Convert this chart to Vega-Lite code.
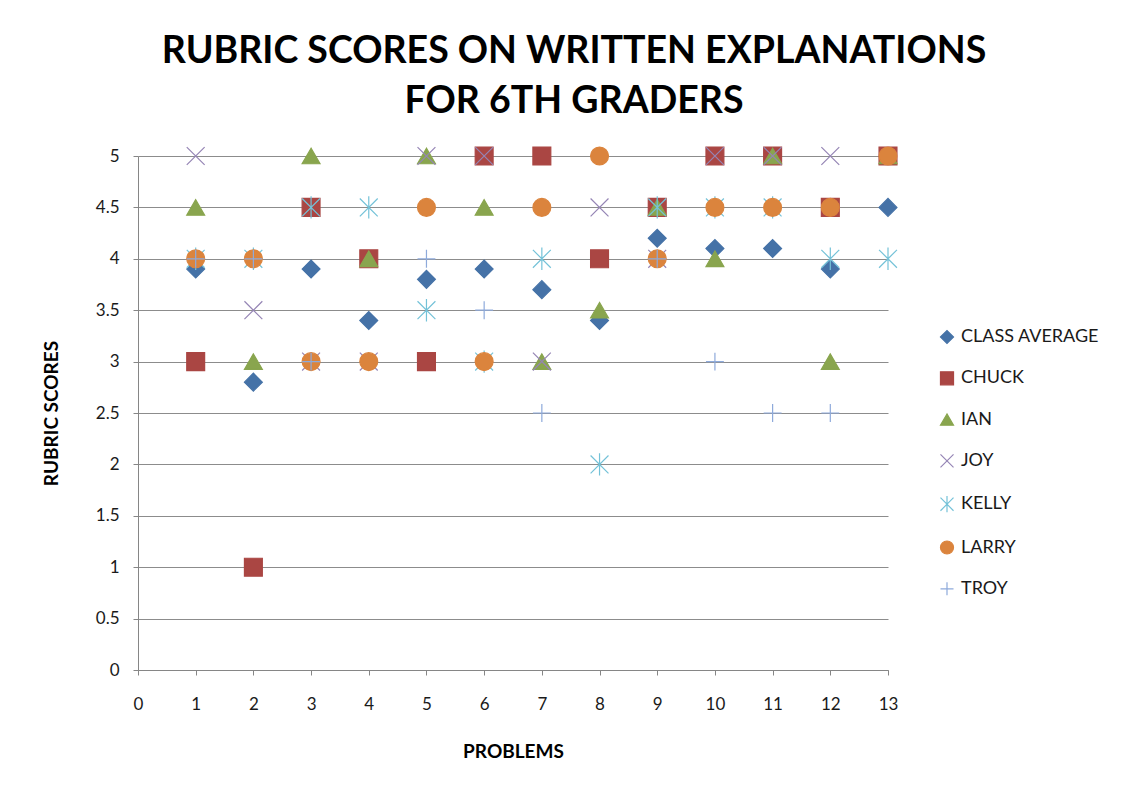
{
  "$schema": "https://vega.github.io/schema/vega-lite/v6.json",
  "width": 750,
  "height": 514,
  "autosize": {"type": "none"},
  "padding": {"left": 138, "top": 156, "right": 248, "bottom": 122},
  "background": "white",
  "title": {
    "text": ["RUBRIC SCORES ON WRITTEN EXPLANATIONS", "FOR 6TH GRADERS"],
    "font": "Lato",
    "fontWeight": "bold",
    "fontSize": 37.5,
    "lineHeight": 50,
    "color": "#000000",
    "anchor": "middle",
    "dx": 61,
    "offset": 24
  },
  "data": {
    "values": [
      {"p": 1, "s": "CLASS AVERAGE", "v": 3.9},
      {"p": 2, "s": "CLASS AVERAGE", "v": 2.8},
      {"p": 3, "s": "CLASS AVERAGE", "v": 3.9},
      {"p": 4, "s": "CLASS AVERAGE", "v": 3.4},
      {"p": 5, "s": "CLASS AVERAGE", "v": 3.8},
      {"p": 6, "s": "CLASS AVERAGE", "v": 3.9},
      {"p": 7, "s": "CLASS AVERAGE", "v": 3.7},
      {"p": 8, "s": "CLASS AVERAGE", "v": 3.4},
      {"p": 9, "s": "CLASS AVERAGE", "v": 4.2},
      {"p": 10, "s": "CLASS AVERAGE", "v": 4.1},
      {"p": 11, "s": "CLASS AVERAGE", "v": 4.1},
      {"p": 12, "s": "CLASS AVERAGE", "v": 3.9},
      {"p": 13, "s": "CLASS AVERAGE", "v": 4.5},
      {"p": 1, "s": "CHUCK", "v": 3},
      {"p": 2, "s": "CHUCK", "v": 1},
      {"p": 3, "s": "CHUCK", "v": 4.5},
      {"p": 4, "s": "CHUCK", "v": 4},
      {"p": 5, "s": "CHUCK", "v": 3},
      {"p": 6, "s": "CHUCK", "v": 5},
      {"p": 7, "s": "CHUCK", "v": 5},
      {"p": 8, "s": "CHUCK", "v": 4},
      {"p": 9, "s": "CHUCK", "v": 4.5},
      {"p": 10, "s": "CHUCK", "v": 5},
      {"p": 11, "s": "CHUCK", "v": 5},
      {"p": 12, "s": "CHUCK", "v": 4.5},
      {"p": 13, "s": "CHUCK", "v": 5},
      {"p": 1, "s": "IAN", "v": 4.5},
      {"p": 2, "s": "IAN", "v": 3},
      {"p": 3, "s": "IAN", "v": 5},
      {"p": 4, "s": "IAN", "v": 4},
      {"p": 5, "s": "IAN", "v": 5},
      {"p": 6, "s": "IAN", "v": 4.5},
      {"p": 7, "s": "IAN", "v": 3},
      {"p": 8, "s": "IAN", "v": 3.5},
      {"p": 9, "s": "IAN", "v": 4.5},
      {"p": 10, "s": "IAN", "v": 4},
      {"p": 11, "s": "IAN", "v": 5},
      {"p": 12, "s": "IAN", "v": 3},
      {"p": 13, "s": "IAN", "v": 5},
      {"p": 1, "s": "JOY", "v": 5},
      {"p": 2, "s": "JOY", "v": 3.5},
      {"p": 3, "s": "JOY", "v": 3},
      {"p": 4, "s": "JOY", "v": 3},
      {"p": 5, "s": "JOY", "v": 5},
      {"p": 6, "s": "JOY", "v": 5},
      {"p": 7, "s": "JOY", "v": 3},
      {"p": 8, "s": "JOY", "v": 4.5},
      {"p": 9, "s": "JOY", "v": 4},
      {"p": 10, "s": "JOY", "v": 5},
      {"p": 11, "s": "JOY", "v": 5},
      {"p": 12, "s": "JOY", "v": 5},
      {"p": 1, "s": "KELLY", "v": 4},
      {"p": 2, "s": "KELLY", "v": 4},
      {"p": 3, "s": "KELLY", "v": 4.5},
      {"p": 4, "s": "KELLY", "v": 4.5},
      {"p": 5, "s": "KELLY", "v": 3.5},
      {"p": 6, "s": "KELLY", "v": 3},
      {"p": 7, "s": "KELLY", "v": 4},
      {"p": 8, "s": "KELLY", "v": 2},
      {"p": 9, "s": "KELLY", "v": 4.5},
      {"p": 10, "s": "KELLY", "v": 4.5},
      {"p": 11, "s": "KELLY", "v": 4.5},
      {"p": 12, "s": "KELLY", "v": 4},
      {"p": 13, "s": "KELLY", "v": 4},
      {"p": 1, "s": "LARRY", "v": 4},
      {"p": 2, "s": "LARRY", "v": 4},
      {"p": 3, "s": "LARRY", "v": 3},
      {"p": 4, "s": "LARRY", "v": 3},
      {"p": 5, "s": "LARRY", "v": 4.5},
      {"p": 6, "s": "LARRY", "v": 3},
      {"p": 7, "s": "LARRY", "v": 4.5},
      {"p": 8, "s": "LARRY", "v": 5},
      {"p": 9, "s": "LARRY", "v": 4},
      {"p": 10, "s": "LARRY", "v": 4.5},
      {"p": 11, "s": "LARRY", "v": 4.5},
      {"p": 12, "s": "LARRY", "v": 4.5},
      {"p": 13, "s": "LARRY", "v": 5},
      {"p": 1, "s": "TROY", "v": 4},
      {"p": 2, "s": "TROY", "v": 4},
      {"p": 3, "s": "TROY", "v": 3},
      {"p": 5, "s": "TROY", "v": 4},
      {"p": 6, "s": "TROY", "v": 3.5},
      {"p": 7, "s": "TROY", "v": 2.5},
      {"p": 9, "s": "TROY", "v": 4},
      {"p": 10, "s": "TROY", "v": 3},
      {"p": 11, "s": "TROY", "v": 2.5},
      {"p": 12, "s": "TROY", "v": 2.5}
    ]
  },
  "mark": {"type": "point", "size": 320, "strokeWidth": 1.2, "opacity": 1},
  "encoding": {
    "x": {
      "field": "p",
      "type": "quantitative",
      "title": "PROBLEMS",
      "scale": {"domain": [0, 13], "nice": false, "zero": false},
      "axis": {
        "values": [0, 1, 2, 3, 4, 5, 6, 7, 8, 9, 10, 11, 12, 13],
        "grid": false,
        "tickSize": 5,
        "labelFlush": false,
        "labelOverlap": false,
        "labelPadding": 21,
        "titlePadding": 30
      }
    },
    "y": {
      "field": "v",
      "type": "quantitative",
      "title": "RUBRIC SCORES",
      "scale": {"domain": [0, 5], "nice": false},
      "axis": {
        "values": [0, 0.5, 1, 1.5, 2, 2.5, 3, 3.5, 4, 4.5, 5],
        "format": "~g",
        "grid": true,
        "tickSize": 5,
        "labelFlush": false,
        "labelOverlap": false,
        "labelPadding": 14,
        "titlePadding": 34
      }
    },
    "shape": {
      "field": "s",
      "type": "nominal",
      "title": null,
      "scale": {
        "domain": ["CLASS AVERAGE", "CHUCK", "IAN", "JOY", "KELLY", "LARRY", "TROY"],
        "range": ["diamond", "square", "triangle-up", "M-1,-1L1,1M-1,1L1,-1", "M-1,-1L1,1M-1,1L1,-1M0,-1.25L0,1.25", "circle", "M-1,0L1,0M0,-1L0,1"]
      }
    },
    "fill": {
      "field": "s",
      "type": "nominal",
      "title": null,
      "scale": {
        "domain": ["CLASS AVERAGE", "CHUCK", "IAN", "JOY", "KELLY", "LARRY", "TROY"],
        "range": ["#4572A7", "#AA4643", "#89A54E", "transparent", "transparent", "#DB843D", "transparent"]
      }
    },
    "stroke": {
      "field": "s",
      "type": "nominal",
      "title": null,
      "scale": {
        "domain": ["CLASS AVERAGE", "CHUCK", "IAN", "JOY", "KELLY", "LARRY", "TROY"],
        "range": ["#4572A7", "#AA4643", "#89A54E", "#9585B5", "#74C2D8", "#DB843D", "#8EAADB"]
      }
    }
  },
  "config": {
    "view": {"stroke": null},
    "font": "Lato",
    "axis": {
      "labelFont": "Lato",
      "labelFontSize": 17,
      "labelColor": "#1a1a1a",
      "titleFont": "Lato",
      "titleFontSize": 19,
      "titleFontWeight": "bold",
      "titleColor": "#000000",
      "domainColor": "#868686",
      "tickColor": "#868686",
      "gridColor": "#8C8C8C",
      "gridWidth": 1,
      "domainWidth": 1
    },
    "legend": {
      "orient": "none",
      "legendX": 800,
      "legendY": 172,
      "labelFont": "Lato",
      "labelFontSize": 18,
      "labelColor": "#1a1a1a",
      "symbolSize": 170,
      "symbolStrokeWidth": 1.2,
      "rowPadding": 23.3,
      "labelOffset": 5
    }
  }
}
